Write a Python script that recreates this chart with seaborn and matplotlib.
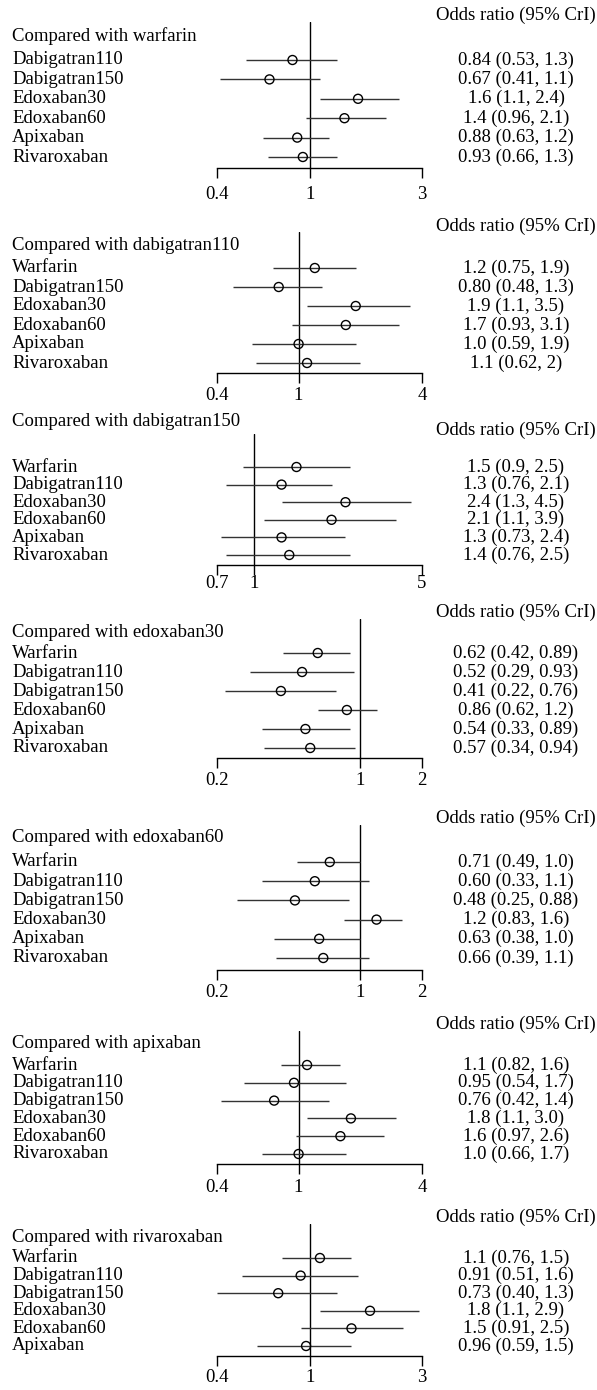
import matplotlib
matplotlib.use("Agg")
import matplotlib.pyplot as plt
import matplotlib.transforms as mtransforms
from matplotlib.ticker import NullLocator
import seaborn as sns

# --- data: odds ratios (95% CrI) ---
HEADER = "Odds ratio (95% CrI)"

WARF_TITLE = "Compared with warfarin"
WARF_TRT = ["Dabigatran110", "Dabigatran150", "Edoxaban30", "Edoxaban60", "Apixaban", "Rivaroxaban"]
WARF_OR = [0.84, 0.67, 1.6, 1.4, 0.88, 0.93]
WARF_LO = [0.53, 0.41, 1.1, 0.96, 0.63, 0.66]
WARF_HI = [1.3, 1.1, 2.4, 2.1, 1.2, 1.3]
WARF_TXT = ["0.84 (0.53, 1.3)", "0.67 (0.41, 1.1)", "1.6 (1.1, 2.4)", "1.4 (0.96, 2.1)", "0.88 (0.63, 1.2)", "0.93 (0.66, 1.3)"]
WARF_TICKS = [0.4, 1, 3]

D110_TITLE = "Compared with dabigatran110"
D110_TRT = ["Warfarin", "Dabigatran150", "Edoxaban30", "Edoxaban60", "Apixaban", "Rivaroxaban"]
D110_OR = [1.2, 0.80, 1.9, 1.7, 1.0, 1.1]
D110_LO = [0.75, 0.48, 1.1, 0.93, 0.59, 0.62]
D110_HI = [1.9, 1.3, 3.5, 3.1, 1.9, 2.0]
D110_TXT = ["1.2 (0.75, 1.9)", "0.80 (0.48, 1.3)", "1.9 (1.1, 3.5)", "1.7 (0.93, 3.1)", "1.0 (0.59, 1.9)", "1.1 (0.62, 2)"]
D110_TICKS = [0.4, 1, 4]

D150_TITLE = "Compared with dabigatran150"
D150_TRT = ["Warfarin", "Dabigatran110", "Edoxaban30", "Edoxaban60", "Apixaban", "Rivaroxaban"]
D150_OR = [1.5, 1.3, 2.4, 2.1, 1.3, 1.4]
D150_LO = [0.9, 0.76, 1.3, 1.1, 0.73, 0.76]
D150_HI = [2.5, 2.1, 4.5, 3.9, 2.4, 2.5]
D150_TXT = ["1.5 (0.9, 2.5)", "1.3 (0.76, 2.1)", "2.4 (1.3, 4.5)", "2.1 (1.1, 3.9)", "1.3 (0.73, 2.4)", "1.4 (0.76, 2.5)"]
D150_TICKS = [0.7, 1, 5]

E30_TITLE = "Compared with edoxaban30"
E30_TRT = ["Warfarin", "Dabigatran110", "Dabigatran150", "Edoxaban60", "Apixaban", "Rivaroxaban"]
E30_OR = [0.62, 0.52, 0.41, 0.86, 0.54, 0.57]
E30_LO = [0.42, 0.29, 0.22, 0.62, 0.33, 0.34]
E30_HI = [0.89, 0.93, 0.76, 1.2, 0.89, 0.94]
E30_TXT = ["0.62 (0.42, 0.89)", "0.52 (0.29, 0.93)", "0.41 (0.22, 0.76)", "0.86 (0.62, 1.2)", "0.54 (0.33, 0.89)", "0.57 (0.34, 0.94)"]
E30_TICKS = [0.2, 1, 2]

E60_TITLE = "Compared with edoxaban60"
E60_TRT = ["Warfarin", "Dabigatran110", "Dabigatran150", "Edoxaban30", "Apixaban", "Rivaroxaban"]
E60_OR = [0.71, 0.60, 0.48, 1.2, 0.63, 0.66]
E60_LO = [0.49, 0.33, 0.25, 0.83, 0.38, 0.39]
E60_HI = [1.0, 1.1, 0.88, 1.6, 1.0, 1.1]
E60_TXT = ["0.71 (0.49, 1.0)", "0.60 (0.33, 1.1)", "0.48 (0.25, 0.88)", "1.2 (0.83, 1.6)", "0.63 (0.38, 1.0)", "0.66 (0.39, 1.1)"]
E60_TICKS = [0.2, 1, 2]

API_TITLE = "Compared with apixaban"
API_TRT = ["Warfarin", "Dabigatran110", "Dabigatran150", "Edoxaban30", "Edoxaban60", "Rivaroxaban"]
API_OR = [1.1, 0.95, 0.76, 1.8, 1.6, 1.0]
API_LO = [0.82, 0.54, 0.42, 1.1, 0.97, 0.66]
API_HI = [1.6, 1.7, 1.4, 3.0, 2.6, 1.7]
API_TXT = ["1.1 (0.82, 1.6)", "0.95 (0.54, 1.7)", "0.76 (0.42, 1.4)", "1.8 (1.1, 3.0)", "1.6 (0.97, 2.6)", "1.0 (0.66, 1.7)"]
API_TICKS = [0.4, 1, 4]

RIV_TITLE = "Compared with rivaroxaban"
RIV_TRT = ["Warfarin", "Dabigatran110", "Dabigatran150", "Edoxaban30", "Edoxaban60", "Apixaban"]
RIV_OR = [1.1, 0.91, 0.73, 1.8, 1.5, 0.96]
RIV_LO = [0.76, 0.51, 0.40, 1.1, 0.91, 0.59]
RIV_HI = [1.5, 1.6, 1.3, 2.9, 2.5, 1.5]
RIV_TXT = ["1.1 (0.76, 1.5)", "0.91 (0.51, 1.6)", "0.73 (0.40, 1.3)", "1.8 (1.1, 2.9)", "1.5 (0.91, 2.5)", "0.96 (0.59, 1.5)"]
RIV_TICKS = [0.4, 1, 3]

PANELS = [
    (WARF_TITLE, WARF_TRT, WARF_OR, WARF_LO, WARF_HI, WARF_TXT, WARF_TICKS),
    (D110_TITLE, D110_TRT, D110_OR, D110_LO, D110_HI, D110_TXT, D110_TICKS),
    (D150_TITLE, D150_TRT, D150_OR, D150_LO, D150_HI, D150_TXT, D150_TICKS),
    (E30_TITLE, E30_TRT, E30_OR, E30_LO, E30_HI, E30_TXT, E30_TICKS),
    (E60_TITLE, E60_TRT, E60_OR, E60_LO, E60_HI, E60_TXT, E60_TICKS),
    (API_TITLE, API_TRT, API_OR, API_LO, API_HI, API_TXT, API_TICKS),
    (RIV_TITLE, RIV_TRT, RIV_OR, RIV_LO, RIV_HI, RIV_TXT, RIV_TICKS),
]

# --- layout in pixels: header, title, ref-line top, first row, last row, axis line, tick labels ---
W, H = 597, 1390
LAYOUT = [
    (15, 36, 22, 60, 157, 168, 197),
    (226, 246, 232, 268, 363, 373, 398),
    (430, 422, 434, 467, 555, 565, 582),
    (612, 633, 619, 653, 748, 758, 783),
    (818, 838, 825, 862, 958, 970, 995),
    (1024, 1044, 1031, 1065, 1154, 1164, 1190),
    (1217, 1237, 1224, 1258, 1346, 1356, 1380),
]
X_AX0, X_AX1 = 217, 422
X_LABEL = 12
X_EST = 516
X_HEAD = 596
FS = 13.5
TICK_LEN = 10


def fx(px):
    return px / W


def fy(py):
    return 1 - py / H


sns.set_theme(style="white")
plt.rcParams["font.family"] = ["Liberation Serif", "DejaVu Serif"]

fig = plt.figure(figsize=(W / 100, H / 100), dpi=100)

for (title, trt, est, lo, hi, txt, ticks), (head_y, title_y, vtop, first, last, spine, tick_y) in zip(PANELS, LAYOUT):
    n = len(trt)
    step = (last - first) / (n - 1)
    rows = list(range(n))

    ax = fig.add_axes([fx(X_AX0), fy(spine), (X_AX1 - X_AX0) / W, (spine - vtop) / H])
    ax.set_xscale("log")
    ax.set_xlim(ticks[0], ticks[-1])
    ax.set_ylim((n - 1) + (spine - last) / step, -(first - vtop) / step)

    ax.hlines(rows, lo, hi, color="#333333", lw=1.0, zorder=2)
    sns.scatterplot(x=est, y=rows, ax=ax, marker="o", s=42, color="black",
                    edgecolor="black", linewidth=1.0, zorder=3, legend=False)
    ax.collections[-1].set_facecolor("none")
    ax.axvline(1, color="black", lw=1.0, zorder=1)

    for s in ["top", "left", "right"]:
        ax.spines[s].set_visible(False)
    ax.spines["bottom"].set_color("black")
    ax.spines["bottom"].set_linewidth(1.0)
    ax.set_yticks([])
    ax.set_xticks(ticks)
    ax.set_xticklabels([f"{t:g}" for t in ticks])
    ax.xaxis.set_minor_locator(NullLocator())
    pad = max(0.0, (tick_y - spine) - TICK_LEN - 10.7) * 0.72
    ax.tick_params(axis="x", bottom=True, direction="out", length=TICK_LEN * 0.72,
                   width=1.0, color="black", labelsize=FS, pad=pad, labelcolor="black")
    ax.set_xlabel("")
    ax.set_ylabel("")

    trans = mtransforms.blended_transform_factory(fig.transFigure, ax.transData)
    for r, name, t in zip(rows, trt, txt):
        ax.text(fx(X_LABEL), r, name, transform=trans, ha="left", va="center",
                fontsize=FS, color="black", clip_on=False)
        ax.text(fx(X_EST), r, t, transform=trans, ha="center", va="center",
                fontsize=FS, color="black", clip_on=False)

    fig.text(fx(X_LABEL), fy(title_y), title, ha="left", va="center", fontsize=FS, color="black")
    fig.text(fx(X_HEAD), fy(head_y), HEADER, ha="right", va="center", fontsize=FS, color="black")

fig.savefig("out.png", dpi=100, facecolor="white")
